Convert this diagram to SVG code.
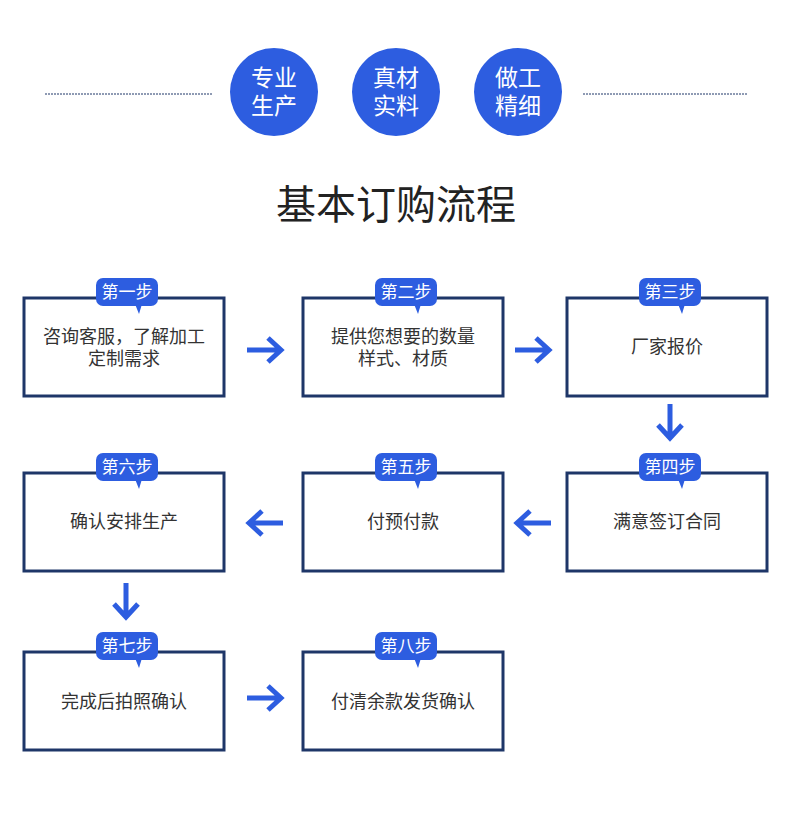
<svg xmlns="http://www.w3.org/2000/svg" width="790" height="818" viewBox="0 0 790 818">
<defs>
<style>
.circ{fill:#2d5de0}
.ct{font-family:"Noto Sans CJK SC","Noto Sans",sans-serif;font-size:23px;fill:#fff;text-anchor:middle}
.box{fill:#fff;stroke:#1e3668;stroke-width:3}
.bt{font-family:"Noto Sans CJK SC","Noto Sans",sans-serif;font-size:18px;fill:#333;text-anchor:middle}
.badge{fill:#2d5de0}
.bgt{font-family:"Noto Sans CJK SC","Noto Sans",sans-serif;font-size:17px;fill:#fff;text-anchor:middle}
.arr{fill:none;stroke:#2d5de0;stroke-width:5}
.dash{stroke:#1e3668;stroke-width:1;stroke-dasharray:2 1}
</style>
<g id="bubble">
<rect x="-31" y="-14" width="62" height="28" rx="7" class="badge"/>
<path d="M8,12 L15,12 L12,22 Z" class="badge"/>
</g>
</defs>
<g id="header">
<line x1="45" y1="94" x2="213" y2="94" class="dash"/>
<line x1="583" y1="94" x2="748" y2="94" class="dash"/>
<circle cx="274" cy="92" r="44" class="circ"/>
<text x="274" y="86" class="ct">专业</text>
<text x="274" y="114" class="ct">生产</text>
<circle cx="396" cy="92" r="44" class="circ"/>
<text x="396" y="86" class="ct">真材</text>
<text x="396" y="114" class="ct">实料</text>
<circle cx="518" cy="92" r="44" class="circ"/>
<text x="518" y="86" class="ct">做工</text>
<text x="518" y="114" class="ct">精细</text>
<text x="396" y="219" style="font-family:'Noto Sans CJK SC',sans-serif;font-size:40px;fill:#222;text-anchor:middle">基本订购流程</text>
</g>
<g id="connectors">
<path d="M247,350 H280 M268,338 L281,350 L268,362" class="arr"/>
<path d="M515,350 H548 M536,338 L549,350 L536,362" class="arr"/>
<path d="M670,404 V437 M658,425 L670,438 L682,425" class="arr"/>
<path d="M551,523 H518 M530,511 L517,523 L530,535" class="arr"/>
<path d="M283,523 H250 M262,511 L249,523 L262,535" class="arr"/>
<path d="M126,583 V616 M114,604 L126,617 L138,604" class="arr"/>
<path d="M247,698 H280 M268,686 L281,698 L268,710" class="arr"/>
</g>
<g id="step1">
<rect x="24" y="298" width="200" height="98" class="box"/>
<use href="#bubble" x="127" y="292"/>
<text x="127" y="298" class="bgt">第一步</text>
<text x="124" y="343" class="bt">咨询客服，了解加工</text>
<text x="124" y="365" class="bt">定制需求</text>
</g>
<g id="step2">
<rect x="303" y="298" width="200" height="98" class="box"/>
<use href="#bubble" x="406" y="292"/>
<text x="406" y="298" class="bgt">第二步</text>
<text x="403" y="343" class="bt">提供您想要的数量</text>
<text x="403" y="365" class="bt">样式、材质</text>
</g>
<g id="step3">
<rect x="567" y="298" width="200" height="98" class="box"/>
<use href="#bubble" x="670" y="292"/>
<text x="670" y="298" class="bgt">第三步</text>
<text x="667" y="353" class="bt">厂家报价</text>
</g>
<g id="step4">
<rect x="567" y="473" width="200" height="98" class="box"/>
<use href="#bubble" x="670" y="467"/>
<text x="670" y="473" class="bgt">第四步</text>
<text x="667" y="528" class="bt">满意签订合同</text>
</g>
<g id="step5">
<rect x="303" y="473" width="200" height="98" class="box"/>
<use href="#bubble" x="406" y="467"/>
<text x="406" y="473" class="bgt">第五步</text>
<text x="403" y="528" class="bt">付预付款</text>
</g>
<g id="step6">
<rect x="24" y="473" width="200" height="98" class="box"/>
<use href="#bubble" x="127" y="467"/>
<text x="127" y="473" class="bgt">第六步</text>
<text x="124" y="528" class="bt">确认安排生产</text>
</g>
<g id="step7">
<rect x="24" y="652" width="200" height="98" class="box"/>
<use href="#bubble" x="127" y="646"/>
<text x="127" y="652" class="bgt">第七步</text>
<text x="124" y="708" class="bt">完成后拍照确认</text>
</g>
<g id="step8">
<rect x="303" y="652" width="200" height="98" class="box"/>
<use href="#bubble" x="406" y="646"/>
<text x="406" y="652" class="bgt">第八步</text>
<text x="403" y="708" class="bt">付清余款发货确认</text>
</g>
</svg>
